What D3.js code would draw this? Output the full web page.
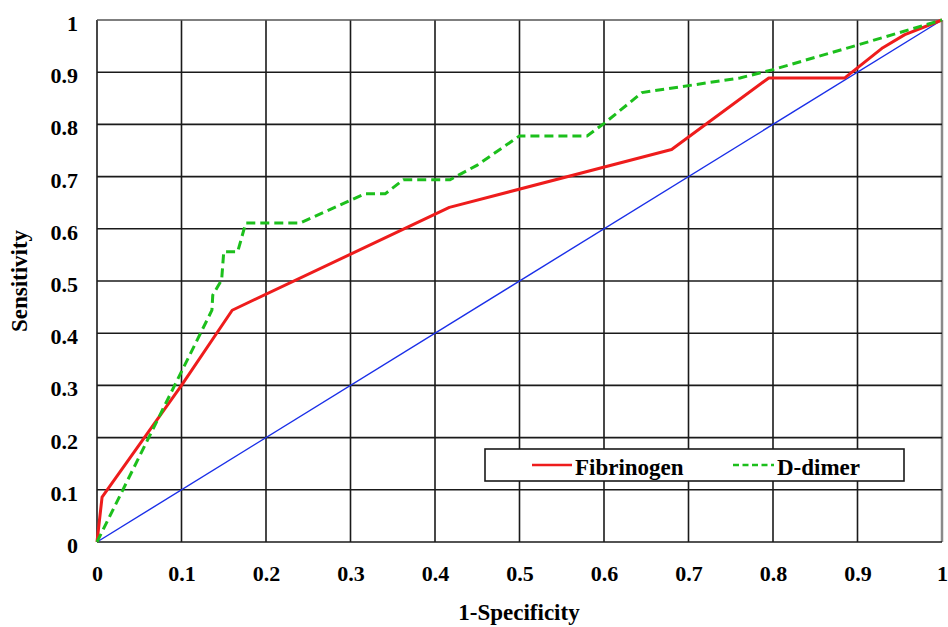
<!DOCTYPE html>
<html>
<head>
<meta charset="utf-8">
<script src="https://cdn.jsdelivr.net/npm/d3@7"></script>
<style>
  body { margin: 0; background: #fff; }
  text { font-family: "Liberation Serif", "Times New Roman", serif; font-weight: bold; }
</style>
</head>
<body>
<div id="chart"></div>
<script>
// ROC curve points (1-specificity, sensitivity)
const fibrinogenX = [0, 0.006, 0.1, 0.16, 0.417, 0.68, 0.795, 0.885, 0.93, 0.956, 1]
const fibrinogenY = [0, 0.086, 0.3, 0.444, 0.641, 0.752, 0.889, 0.889, 0.947, 0.972, 1]

const ddimerX = [0, 0.136, 0.137, 0.1475, 0.150, 0.1665, 0.176, 0.240, 0.317, 0.341, 0.3626, 0.4178, 0.45, 0.5, 0.58, 0.601, 0.645, 0.761, 0.8, 0.9, 1]
const ddimerY = [0, 0.444, 0.473, 0.502, 0.556, 0.556, 0.611, 0.611, 0.667, 0.667, 0.694, 0.694, 0.722, 0.778, 0.778, 0.803, 0.861, 0.889, 0.905, 0.952, 1]

const diagonal = [0, 1]
const ticks = [0, 0.1, 0.2, 0.3, 0.4, 0.5, 0.6, 0.7, 0.8, 0.9, 1]
const tickLabels = ['0', '0.1', '0.2', '0.3', '0.4', '0.5', '0.6', '0.7', '0.8', '0.9', '1']
const seriesNames = ['Fibrinogen', 'D-dimer']

const width = 948
const height = 627
const margin = { top: 20, right: 6, bottom: 85, left: 97 }

const svg = d3.select('#chart').append('svg')
  .attr('width', width)
  .attr('height', height)

const x = d3.scaleLinear().domain([0, 1]).range([margin.left, width - margin.right])
const y = d3.scaleLinear().domain([0, 1]).range([height - margin.bottom, margin.top])

// grid
const grid = svg.append('g')
grid.selectAll('.vline').data(ticks).join('line')
  .attr('x1', d => x(d)).attr('x2', d => x(d))
  .attr('y1', y(0)).attr('y2', y(1))
  .attr('stroke', (d, i) => i === ticks.length - 1 ? '#8a8a8a' : '#1a1a1a')
  .attr('stroke-width', (d, i) => i === ticks.length - 1 ? 2.5 : 1.6)
grid.selectAll('.hline').data(ticks).join('line')
  .attr('x1', x(0)).attr('x2', x(1))
  .attr('y1', d => y(d)).attr('y2', d => y(d))
  .attr('stroke', (d, i) => i === ticks.length - 1 ? '#555' : '#1a1a1a')
  .attr('stroke-width', 1.6)

// axes (labels only)
const xAxis = d3.axisBottom(x).tickValues(ticks).tickFormat((d, i) => tickLabels[i]).tickSize(0).tickPadding(0)
const xg = svg.append('g').attr('transform', `translate(0,${y(0)})`).call(xAxis)
xg.select('.domain').remove()
xg.selectAll('text')
  .attr('dy', null).attr('y', 39)
  .attr('font-size', 22).attr('fill', '#000')
  .style('font-family', '"Liberation Serif", serif').style('font-weight', 'bold')

const yAxis = d3.axisLeft(y).tickValues(ticks).tickFormat((d, i) => tickLabels[i]).tickSize(0).tickPadding(0)
const yg = svg.append('g').attr('transform', `translate(${x(0) - 19},0)`).call(yAxis)
yg.select('.domain').remove()
yg.selectAll('text')
  .attr('dy', null).attr('y', 10.5)
  .attr('font-size', 22).attr('fill', '#000')
  .style('font-family', '"Liberation Serif", serif').style('font-weight', 'bold')

// diagonal reference line
svg.append('line')
  .attr('x1', x(diagonal[0])).attr('y1', y(diagonal[0]))
  .attr('x2', x(diagonal[1])).attr('y2', y(diagonal[1]))
  .attr('stroke', '#1a2fe8').attr('stroke-width', 1.4)

const line = d3.line().x(d => x(d[0])).y(d => y(d[1]))

svg.append('path')
  .datum(d3.zip(fibrinogenX, fibrinogenY))
  .attr('d', line)
  .attr('fill', 'none')
  .attr('stroke', '#ee1c1c')
  .attr('stroke-width', 3)
  .attr('stroke-linejoin', 'round')

svg.append('path')
  .datum(d3.zip(ddimerX, ddimerY))
  .attr('d', line)
  .attr('fill', 'none')
  .attr('stroke', '#1cbf1c')
  .attr('stroke-width', 3)
  .attr('stroke-dasharray', '9,5')

// legend
const lg = svg.append('g').attr('transform', 'translate(485,449)')
lg.append('rect')
  .attr('width', 419).attr('height', 32)
  .attr('fill', '#fff').attr('stroke', '#1a1a1a').attr('stroke-width', 1.6)
lg.append('line')
  .attr('x1', 47).attr('x2', 87).attr('y1', 16).attr('y2', 16)
  .attr('stroke', '#ee1c1c').attr('stroke-width', 2.5)
lg.append('text').attr('x', 90).attr('y', 26).attr('font-size', 23).text(seriesNames[0])
lg.append('line')
  .attr('x1', 248).attr('x2', 289).attr('y1', 16).attr('y2', 16)
  .attr('stroke', '#1cbf1c').attr('stroke-width', 2.5).attr('stroke-dasharray', '6,3.5')
lg.append('text').attr('x', 292).attr('y', 26).attr('font-size', 23).text(seriesNames[1])

// axis titles
svg.append('text')
  .attr('x', 519).attr('y', 620)
  .attr('text-anchor', 'middle').attr('font-size', 23)
  .text('1-Specificity')
svg.append('text')
  .attr('transform', `translate(27,${y(0.5)}) rotate(-90)`)
  .attr('text-anchor', 'middle').attr('font-size', 23)
  .text('Sensitivity')
</script>
</body>
</html>
